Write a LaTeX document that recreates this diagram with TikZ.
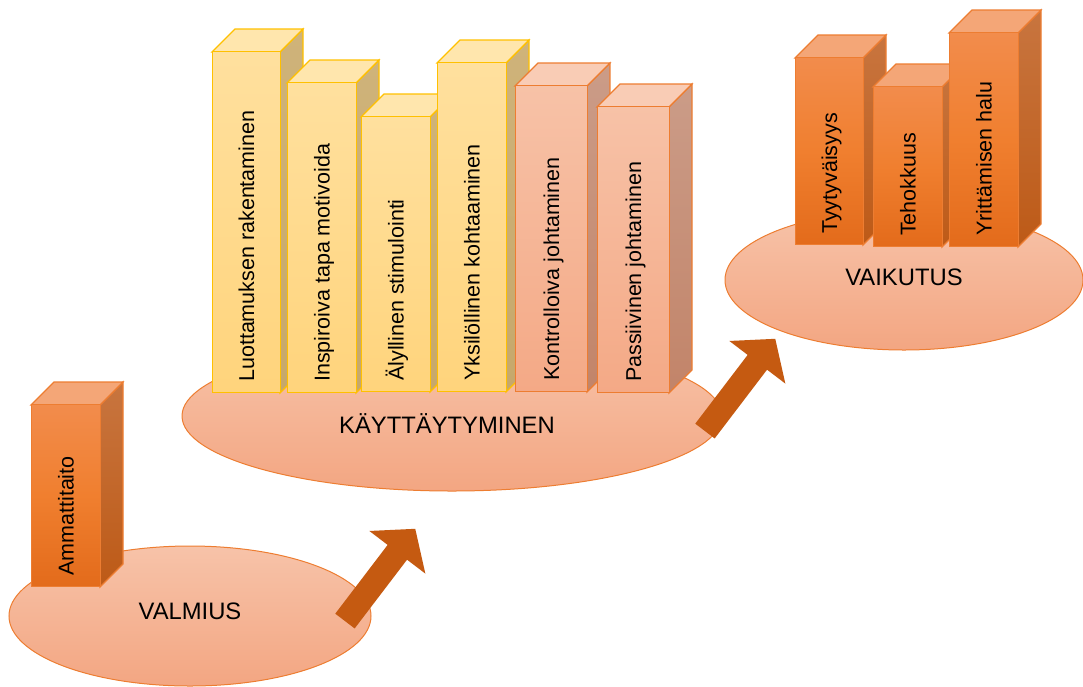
\documentclass[tikz,border=0pt]{standalone}
\usepackage{fontspec}
\setmainfont{Liberation Sans}
\usetikzlibrary{calc,shapes.geometric,shapes.arrows}

\definecolor{yelline}{HTML}{FFC000}
\definecolor{orgline}{HTML}{ED7D31}
\definecolor{arrowc}{HTML}{C55A11}
\definecolor{ellTop}{HTML}{F7C3A9}
\definecolor{ellBot}{HTML}{F3A682}
\definecolor{yelFT}{HTML}{FFE09E}
\definecolor{yelFB}{HTML}{FFD47C}
\definecolor{yelST}{HTML}{CFB37A}
\definecolor{yelSB}{HTML}{C6A86B}
\definecolor{yelTop}{HTML}{FFE6AD}
\definecolor{salFT}{HTML}{F7C2A7}
\definecolor{salFB}{HTML}{F4A986}
\definecolor{salST}{HTML}{CB9C88}
\definecolor{salSB}{HTML}{C28469}
\definecolor{salTop}{HTML}{F9CCB5}
\definecolor{orgFT}{HTML}{F28C4C}
\definecolor{orgFM}{HTML}{F07F2F}
\definecolor{orgFB}{HTML}{E36B1B}
\definecolor{orgST}{HTML}{C8753F}
\definecolor{orgSB}{HTML}{BD5A17}
\definecolor{orgTop}{HTML}{F4A677}

\tikzset{
  stage/.style={ellipse, draw=orgline, line width=1pt, top color=ellTop, bottom color=ellBot, inner sep=0pt},
  stagetext/.style={font=\fontsize{23.8}{28}\selectfont, inner sep=0pt},
  barlabel/.style={font=\fontsize{21.5}{24}\selectfont, inner sep=0pt, rotate=90, anchor=base west},
  yelfront/.style={draw=yelline, line width=1.2pt, top color=yelFT, bottom color=yelFB, inner sep=0pt},
  yelside/.style={draw=yelline, line width=1.2pt, top color=yelST, bottom color=yelSB},
  yeltop/.style={draw=yelline, line width=1.2pt, fill=yelTop},
  salfront/.style={draw=orgline, line width=1.2pt, top color=salFT, bottom color=salFB, inner sep=0pt},
  salside/.style={draw=orgline, line width=1.2pt, top color=salST, bottom color=salSB},
  saltop/.style={draw=orgline, line width=1.2pt, fill=salTop},
  orgfront/.style={draw=orgline, line width=1.2pt, top color=orgFT, bottom color=orgFB, middle color=orgFM, inner sep=0pt},
  orgside/.style={draw=orgline, line width=1.2pt, top color=orgST, bottom color=orgSB},
  orgtop/.style={draw=orgline, line width=1.2pt, fill=orgTop},
  blockarrow/.style={single arrow, fill=arrowc, draw=none, minimum height=116pt,
    minimum width=70pt, inner sep=0pt, inner ysep=12pt,
    single arrow head extend=23pt, single arrow tip angle=100}
}

% #1 name, #2 left, #3 bottom, #4 width, #5 height, #6 colour family, #7 label
\newcommand\prism[7]{%
  \path[#6side] (#2+#4,#3) -- ++(23,-23) -- ++(0,-#5) -- (#2+#4,#3-#5) -- cycle;
  \path[#6top] (#2,#3-#5) -- ++(23,-23) -- ++(#4,0) -- (#2+#4,#3-#5) -- cycle;
  \node[#6front, minimum width=#4pt, minimum height=#5pt, anchor=south west] (#1) at (#2,#3) {};
  \node[barlabel] (#1-text) at ($(#1.south)+(7.5,-11)$) {#7};
}

\begin{document}
\begin{tikzpicture}[x=1pt,y=-1pt]
\useasboundingbox (0,0) rectangle (1083,686);

% the three stages
\node[stage, minimum width=362pt, minimum height=140pt] (valmius) at (190,616) {};
\node[stage, minimum width=540pt, minimum height=150pt] (kaytt) at (452,416) {};
\node[stage, minimum width=358pt, minimum height=140pt] (vaik) at (904,280) {};

\node[stagetext] (valmius-text) at (190,611) {VALMIUS};
\node[stagetext] (kaytt-text) at (447,424) {KÄYTTÄYTYMINEN};
\node[stagetext] (vaik-text) at (904,277) {VAIKUTUS};

% readiness
\prism{b1}{31}{587}{69}{182}{org}{Ammattitaito}

% behaviour
\prism{b2}{212}{393}{68}{341}{yel}{Luottamuksen rakentaminen}
\prism{b3}{287}{393}{69}{310}{yel}{Inspiroiva tapa motivoida}
\prism{b4}{361}{392}{69}{275}{yel}{Älyllinen stimulointi}
\prism{b5}{437}{392}{69}{329}{yel}{Yksilöllinen kohtaaminen}
\prism{b6}{515}{392}{72}{306}{sal}{Kontrolloiva johtaminen}
\prism{b7}{597}{393}{72}{286}{sal}{Passiivinen johtaminen}

% effect
\prism{b8}{795}{245}{68}{187}{org}{Tyytyväisyys}
\prism{b9}{873}{247}{69}{160}{org}{Tehokkuus}
\prism{b10}{949}{247}{69}{214}{org}{Yrittämisen halu}

% transitions between stages
\node[blockarrow, rotate=52.7] (arr1) at (377,579) {};
\node[blockarrow, rotate=52.7] (arr2) at (737,389) {};
\end{tikzpicture}
\end{document}
